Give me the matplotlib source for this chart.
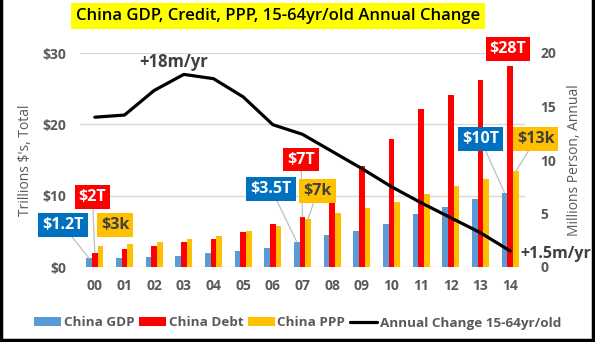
import matplotlib.pyplot as plt
import numpy as np
from matplotlib.lines import Line2D

years = ['00', '01', '02', '03', '04', '05', '06', '07', '08', '09', '10', '11', '12', '13', '14']
gdp = [1.2, 1.3, 1.45, 1.6, 2.0, 2.25, 2.7, 3.5, 4.5, 5.05, 6.05, 7.45, 8.45, 9.6, 10.4]
debt = [2.0, 2.5, 2.95, 3.5, 3.9, 4.9, 6.05, 7.0, 9.5, 14.1, 18.0, 22.1, 24.1, 26.2, 28.2]
ppp = [2.9, 3.2, 3.5, 3.9, 4.35, 5.05, 5.8, 6.75, 7.6, 8.3, 9.15, 10.3, 11.3, 12.3, 13.4]
pop_change = [14.0, 14.2, 16.5, 18.0, 17.6, 15.9, 13.3, 12.4, 10.8, 9.2, 7.5, 6.0, 4.6, 3.2, 1.5]

GREY = '#595959'

plt.rcParams['font.family'] = ['Open Sans', 'DejaVu Sans']
plt.rcParams['font.weight'] = 'bold'

fig = plt.figure(figsize=(5.95, 3.42), dpi=100)
ax = fig.add_axes([80 / 595, 1 - 267 / 342, 445 / 595, 214 / 342])
ax2 = ax.twinx()

x = np.arange(len(years))
w = 0.19
ax.bar(x - w, gdp, w, color='#5B9BD5', label='China GDP', zorder=2)
ax.bar(x, debt, w, color='#FF0000', label='China Debt', zorder=2)
ax.bar(x + w, ppp, w, color='#FFC000', label='China PPP', zorder=2)
ax2.plot(x, pop_change, color='black', lw=2.3, label='Annual Change 15-64yr/old',
         solid_capstyle='round')

ax.set_xlim(-0.5, len(years) - 0.5)
ax.set_ylim(0, 30)
ax2.set_ylim(0, 20)
ax.set_yticks([0, 10, 20, 30])
ax.set_yticklabels(['$0', '$10', '$20', '$30'])
ax2.set_yticks([0, 5, 10, 15, 20])
ax.set_xticks(x)
ax.set_xticklabels(years)
ax.grid(axis='y', color='#D9D9D9', lw=1, zorder=0)
for a in (ax, ax2):
    for s in a.spines.values():
        s.set_visible(False)
    a.tick_params(length=0, labelsize=10, labelcolor=GREY)
ax.tick_params(axis='x', pad=9)
ax.tick_params(axis='y', pad=10)
ax2.tick_params(axis='y', pad=11)
ax.set_ylabel("Trillions $'s, Total", fontsize=10, color=GREY, labelpad=7)
ax2.set_ylabel('Millions Person, Annual', fontsize=10, color=GREY, labelpad=8)


def tag(text, val, xi, tx, ty, fc, tc='white', lead=True):
    ax2.annotate(text, xy=(xi, val), xycoords=ax.transData,
                 xytext=(tx, ty), textcoords=ax.transData,
                 ha='center', va='center', fontsize=11.5, color=tc,
                 bbox=dict(boxstyle='square,pad=0.25', fc=fc, ec='none'),
                 arrowprops=dict(arrowstyle='-', color='#BFBFBF', lw=0.9,
                                 shrinkA=0, shrinkB=0) if lead else None,
                 annotation_clip=False, zorder=5)


tag('$1.2T', gdp[0], 0 - w, -1.08, 5.85, '#0070C0')
tag('$2T', debt[0], 0, -0.08, 9.86, '#FF0000')
tag('$3k', ppp[0], 0 + w, 0.69, 5.85, '#FFC000', '#404040', lead=False)
tag('$3.5T', gdp[7], 7 - w, 5.94, 11.0, '#0070C0')
tag('$7T', debt[7], 7, 6.95, 15.07, '#FF0000')
tag('$7k', ppp[7], 7 + w, 7.51, 10.7, '#FFC000', '#404040')
tag('$10T', gdp[14], 14 - w, 13.0, 17.9, '#0070C0')
tag('$13k', ppp[14], 14 + w, 14.86, 17.9, '#FFC000', '#404040')
tag('$28T', debt[14], 14, 13.93, 30.6, '#FF0000', lead=False)

ax2.annotate('+18m/yr', xy=(3, pop_change[3]), xytext=(2.67, 19.15), textcoords='data',
             ha='center', va='center', fontsize=12, color='#404040')
ax2.annotate('+1.5m/yr', xy=(14, pop_change[14]), xytext=(7, -2), textcoords='offset points',
             ha='left', va='center', fontsize=11.5, color='#404040', annotation_clip=False)

fig.text(278 / 595, 1 - 15.5 / 342, 'China GDP, Credit, PPP, 15-64yr/old Annual Change',
         ha='center', va='center', fontsize=12, color='black', fontweight='semibold',
         bbox=dict(boxstyle='square,pad=0.3', fc='#FFFF00', ec='none'))

handles = ax.get_legend_handles_labels()[0] + ax2.get_legend_handles_labels()[0]
labels = ax.get_legend_handles_labels()[1] + ax2.get_legend_handles_labels()[1]
fig.legend(handles, labels, loc='center', bbox_to_anchor=(0.5, 1 - 323 / 342), ncol=4,
           frameon=False, fontsize=9.7, labelcolor=GREY, handlelength=2.0,
           handletextpad=0.2, columnspacing=0.35, handleheight=0.6)

# black frame on the left, right and bottom
for seg in [([0.002, 0.002], [0, 1]), ([0.996, 0.996], [0, 1]), ([0, 1], [0.005, 0.005])]:
    fig.add_artist(Line2D(*seg, transform=fig.transFigure, color='black', lw=2.5))

fig.savefig('out.png', dpi=100)
